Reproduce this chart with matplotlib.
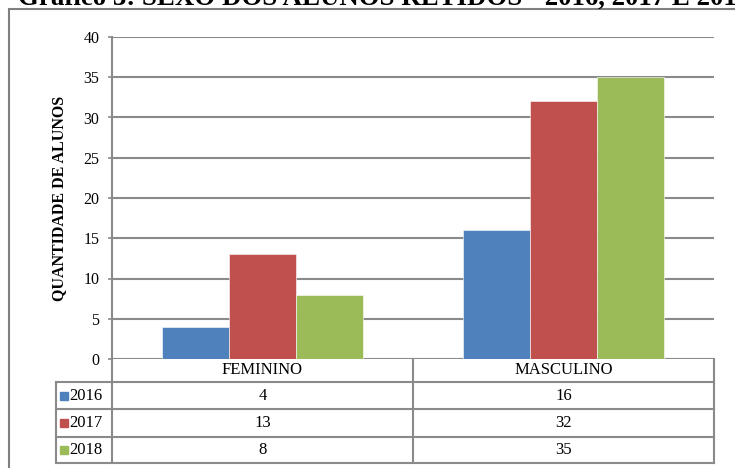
import matplotlib.pyplot as plt
import numpy as np
from matplotlib.patches import Rectangle
from matplotlib.lines import Line2D

# dados do gráfico
categorias = ["FEMININO", "MASCULINO"]
anos = ["2016", "2017", "2018"]
valores_2016 = [4, 16]
valores_2017 = [13, 32]
valores_2018 = [8, 35]
cores = ["#4F81BD", "#C0504D", "#9BBB59"]
titulo = "Gráfico 3: SEXO DOS ALUNOS RETIDOS - 2016, 2017 E 2018"

plt.rcParams['font.family'] = ['Liberation Serif', 'DejaVu Serif']

W, H = 735, 468
fig = plt.figure(figsize=(W / 100, H / 100), dpi=100)

def fx(px):
    return px / W

def fy(py):
    return 1 - py / H

cinza = "#8a8a8a"

# moldura externa
fig.patches.append(Rectangle((fx(9), fy(480)), fx(740) - fx(9), fy(9) - fy(480),
                             transform=fig.transFigure, fill=False,
                             edgecolor="#7f7f7f", lw=1.5))
fig.text(fx(18), fy(4.5), titulo, fontsize=19.4, fontweight='bold', va='baseline')

ax = fig.add_axes([fx(112), fy(359), fx(714) - fx(112), fy(37) - fy(359)])
x = np.arange(len(categorias))
largura = 0.2226
series = [valores_2016, valores_2017, valores_2018]
for i, vals in enumerate(series):
    ax.bar(x + (i - 1) * largura, vals, largura, color=cores[i], zorder=3,
           edgecolor='white', linewidth=0.4)

ax.set_xlim(-0.5, 1.5)
ax.set_ylim(0, 40)
ax.set_yticks(range(0, 41, 5))
ax.set_xticks([])
ax.yaxis.grid(True, color=cinza, lw=1.5, zorder=0)
for s in ['top', 'right', 'bottom']:
    ax.spines[s].set_visible(False)
ax.spines['left'].set_color(cinza)
ax.spines['left'].set_linewidth(1.5)
ax.tick_params(axis='y', colors=cinza, length=3, width=1.2, labelsize=11.5,
               labelcolor='black', pad=6)
ax.set_ylabel("QUANTIDADE DE ALUNOS", fontsize=11.5, fontweight='bold', labelpad=12)

# tabela de dados abaixo do eixo
x_leg, x_ini, x_meio, x_fim = 56, 112, 413, 714
linhas_y = [359, 382, 409, 436.5, 463]

def linha(x0, x1, y0, y1):
    fig.lines.append(Line2D([fx(x0), fx(x1)], [fy(y0), fy(y1)],
                            transform=fig.transFigure, color=cinza, lw=1.5))

linha(x_ini, x_fim, 382, 382)
linha(x_ini, x_ini, 359, 463)
linha(x_meio, x_meio, 359, 463)
linha(x_fim, x_fim, 359, 463)
linha(x_leg, x_leg, 382, 463)
for yy in linhas_y[2:]:
    linha(x_leg, x_fim, yy, yy)
linha(x_leg, x_ini, 382, 382)

centros_x = [(x_ini + x_meio) / 2, (x_meio + x_fim) / 2]
y_cab = (linhas_y[0] + linhas_y[1]) / 2
for cx, cat in zip(centros_x, categorias):
    fig.text(fx(cx), fy(y_cab), cat, ha='center', va='center', fontsize=12)

for i, (ano, vals) in enumerate(zip(anos, series)):
    yc = (linhas_y[i + 1] + linhas_y[i + 2]) / 2
    fig.patches.append(Rectangle((fx(60), fy(yc + 4)), fx(8), 8 / H,
                                 transform=fig.transFigure, color=cores[i]))
    fig.text(fx(69), fy(yc), ano, ha='left', va='center', fontsize=12)
    for cx, v in zip(centros_x, vals):
        fig.text(fx(cx), fy(yc), str(v), ha='center', va='center', fontsize=12)

fig.savefig("out.png", dpi=100)
